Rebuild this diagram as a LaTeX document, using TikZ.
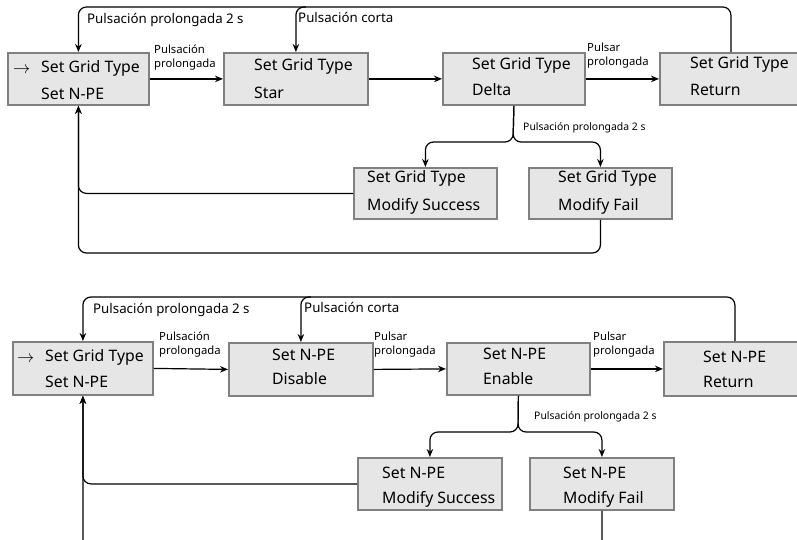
\documentclass[tikz,border=0pt]{standalone}
\usepackage{fontspec}
\setmainfont{Noto Sans}
\usepackage{tikz}
\usetikzlibrary{arrows.meta, positioning, calc}
\definecolor{boxfill}{RGB}{230, 230, 230}
\definecolor{boxline}{RGB}{128, 128, 128}

\begin{document}
\begin{tikzpicture}[x=1pt, y=-1pt,
    menubox/.style={draw=boxline, fill=boxfill, line width=1.8pt, rectangle, anchor=north west, minimum height=52pt, inner sep=0pt},
    menutxt/.style={anchor=west, inner sep=0pt, font=\fontsize{15.8}{18}\selectfont},
    cursor/.style={anchor=west, inner sep=0pt, font=\fontsize{18.5}{20}\selectfont},
    steplbl/.style={anchor=west, inner sep=0pt, align=left, font=\fontsize{11.3}{14}\selectfont},
    looplbl/.style={anchor=west, inner sep=0pt, font=\fontsize{13.3}{16}\selectfont},
    branchlbl/.style={anchor=west, inner sep=0pt, font=\fontsize{10.4}{12}\selectfont},
    conn/.style={line width=1.2pt, rounded corners=8pt},
    arr/.style={conn, -{Stealth[length=8pt, width=6.5pt]}}]
    \useasboundingbox (0,0) rectangle (797,539);
    \clip (0,0) rectangle (797,539);

    % Grid type menu
    \node[menubox, minimum width=141pt] (t1) at (7,52) {};
    \node[menubox, minimum width=144pt] (t2) at (223,52) {};
    \node[menubox, minimum width=142pt] (t3) at (442,52) {};
    \node[menubox, minimum width=142pt] (t4) at (659,52) {};
    \node[menubox, minimum width=143pt, minimum height=51pt] (ts) at (353,167) {};
    \node[menubox, minimum width=143pt, minimum height=51pt] (tf) at (528,167) {};

    \node[cursor] (t1p) at (13,70) {$\rightarrow$};
    \node[menutxt] (t1a) at (41,68) {Set Grid Type};
    \node[menutxt] (t1b) at (41,94) {Set N-PE};
    \node[menutxt] (t2a) at (254,66) {Set Grid Type};
    \node[menutxt] (t2b) at (254,93) {Star};
    \node[menutxt] (t3a) at (472,65) {Set Grid Type};
    \node[menutxt] (t3b) at (472,90) {Delta};
    \node[menutxt] (t4a) at (690,64) {Set Grid Type};
    \node[menutxt] (t4b) at (690,90) {Return};
    \node[menutxt] (tsa) at (367,178) {Set Grid Type};
    \node[menutxt] (tsb) at (367,206) {Modify Success};
    \node[menutxt] (tfa) at (558,178) {Set Grid Type};
    \node[menutxt] (tfb) at (558,206) {Modify Fail};

    \coordinate (ttop) at (0,7);
    \coordinate (tsplit) at (513,142);
    \coordinate (tbot) at (0,253);

    \draw[arr] (t1.east) -- (t2.west);
    \draw[arr] (t2.east) -- (t3.west);
    \draw[arr] (t3.east) -- (t4.west);
    \draw[arr] (t4.north) |- (ttop -| t1.north) -- (t1.north);
    \draw[arr] ($(ttop -| t2.north)+(10,0)$) -| (t2.north);
    \draw[arr] (t3.south) -- (tsplit) -| (ts.north);
    \draw[arr] (t3.south) -- (tsplit) -| (tf.north);
    \draw[arr] (ts.west) -| (t1.south);
    \draw[arr] (tf.south) |- (tbot -| t1.south) -- (t1.south);

    \node[steplbl] (tl1) at (154,58) {Pulsación\\prolongada};
    \node[steplbl] (tl3) at (587,56) {Pulsar\\prolongada};
    \node[looplbl] (tlong) at (87,20) {Pulsación prolongada 2 s};
    \node[looplbl] (tshort) at (298,17) {Pulsación corta};
    \node[branchlbl] (tbr) at (523,128) {Pulsación prolongada 2 s};

    % N-PE menu
    \node[menubox, minimum width=140pt, minimum height=53pt] (b1) at (12,341) {};
    \node[menubox, minimum width=144pt, minimum height=53pt] (b2) at (228,342) {};
    \node[menubox, minimum width=143pt] (b3) at (446,342) {};
    \node[menubox, minimum width=142pt, minimum height=54pt] (b4) at (663,341) {};
    \node[menubox, minimum width=144pt] (bs) at (357,457) {};
    \node[menubox, minimum width=144pt] (bf) at (529,457) {};

    \node[cursor] (b1p) at (17,359) {$\rightarrow$};
    \node[menutxt] (b1a) at (45,357) {Set Grid Type};
    \node[menutxt] (b1b) at (45,382) {Set N-PE};
    \node[menutxt] (b2a) at (272,355) {Set N-PE};
    \node[menutxt] (b2b) at (272,379) {Disable};
    \node[menutxt] (b3a) at (483,354) {Set N-PE};
    \node[menutxt] (b3b) at (483,379) {Enable};
    \node[menutxt] (b4a) at (703,357) {Set N-PE};
    \node[menutxt] (b4b) at (703,382) {Return};
    \node[menutxt] (bsa) at (382,473) {Set N-PE};
    \node[menutxt] (bsb) at (382,499) {Modify Success};
    \node[menutxt] (bfa) at (563,473) {Set N-PE};
    \node[menutxt] (bfb) at (563,499) {Modify Fail};

    \coordinate (btop) at (0,297);
    \coordinate (bsplit) at (518,432);
    \coordinate (bbot) at (0,548);

    \draw[arr] (b1.east) -- (b2.west);
    \draw[arr] (b2.east) -- (b3.west);
    \draw[arr] (b3.east) -- (b4.west);
    \draw[arr] (b4.north) |- (btop -| b1.north) -- (b1.north);
    \draw[arr] ($(btop -| b2.north)+(10,0)$) -| (b2.north);
    \draw[arr] (b3.south) -- (bsplit) -| (bs.north);
    \draw[arr] (b3.south) -- (bsplit) -| (bf.north);
    \draw[arr] (bs.west) -| (b1.south);
    \draw[arr] (bf.south) |- (bbot -| b1.south) -- (b1.south);

    \node[steplbl] (bl1) at (159,345) {Pulsación\\prolongada};
    \node[steplbl] (bl2) at (374,345) {Pulsar\\prolongada};
    \node[steplbl] (bl3) at (593,345) {Pulsar\\prolongada};
    \node[looplbl] (blong) at (93,310) {Pulsación prolongada 2 s};
    \node[looplbl] (bshort) at (304,307) {Pulsación corta};
    \node[branchlbl] (bbr) at (534,417) {Pulsación prolongada 2 s};
\end{tikzpicture}
\end{document}
